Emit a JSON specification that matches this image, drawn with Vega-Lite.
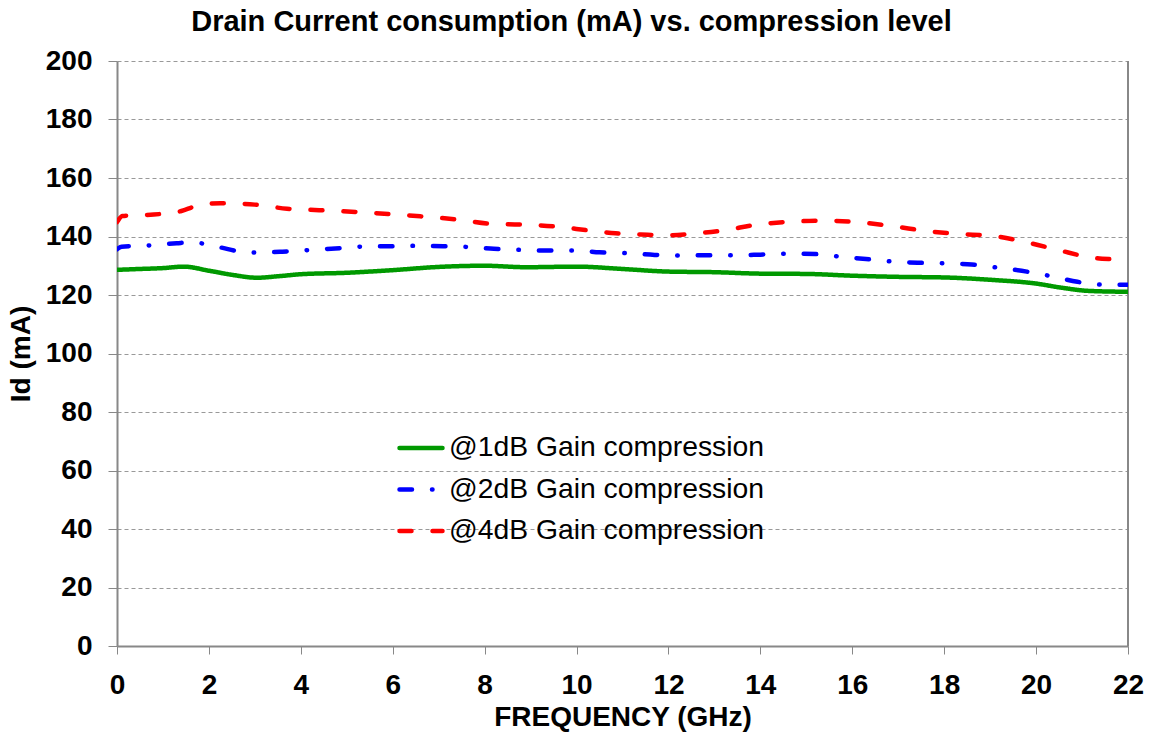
{
  "$schema": "https://vega.github.io/schema/vega-lite/v6.json",
  "autosize": "none",
  "width": 1011,
  "height": 585,
  "padding": {"left": 117, "top": 61, "right": 27, "bottom": 90},
  "background": "white",
  "title": {
    "text": "Drain Current consumption (mA) vs. compression level",
    "font": "Liberation Sans",
    "fontSize": 29,
    "fontWeight": "bold",
    "color": "black",
    "anchor": "middle",
    "frame": "group",
    "dx": -51,
    "offset": 10
  },
  "config": {
    "view": {"stroke": null},
    "axis": {
      "labelFont": "Liberation Sans",
      "labelFontWeight": "bold",
      "labelFontSize": 28,
      "labelColor": "black",
      "titleFont": "Liberation Sans",
      "titleFontWeight": "bold",
      "titleFontSize": 28,
      "titleColor": "black",
      "gridColor": "#999999",
      "gridDash": [4, 3],
      "gridWidth": 1,
      "gridOpacity": 1,
      "domainColor": "#888888",
      "domainWidth": 2,
      "tickColor": "#888888",
      "tickWidth": 1
    }
  },
  "data": {
    "values": [
      {"f": 0, "id": 128.6, "s": "@1dB Gain compression"},
      {"f": 0.5, "id": 128.9, "s": "@1dB Gain compression"},
      {"f": 1.0, "id": 129.2, "s": "@1dB Gain compression"},
      {"f": 1.45, "id": 129.7, "s": "@1dB Gain compression"},
      {"f": 2.0, "id": 128.3, "s": "@1dB Gain compression"},
      {"f": 2.5, "id": 126.9, "s": "@1dB Gain compression"},
      {"f": 3.05, "id": 125.9, "s": "@1dB Gain compression"},
      {"f": 3.5, "id": 126.4, "s": "@1dB Gain compression"},
      {"f": 4.0, "id": 127.1, "s": "@1dB Gain compression"},
      {"f": 5.0, "id": 127.6, "s": "@1dB Gain compression"},
      {"f": 6.0, "id": 128.5, "s": "@1dB Gain compression"},
      {"f": 7.0, "id": 129.6, "s": "@1dB Gain compression"},
      {"f": 8.0, "id": 130.0, "s": "@1dB Gain compression"},
      {"f": 8.9, "id": 129.5, "s": "@1dB Gain compression"},
      {"f": 10.0, "id": 129.7, "s": "@1dB Gain compression"},
      {"f": 11.0, "id": 128.9, "s": "@1dB Gain compression"},
      {"f": 12.0, "id": 128.0, "s": "@1dB Gain compression"},
      {"f": 13.0, "id": 127.8, "s": "@1dB Gain compression"},
      {"f": 14.0, "id": 127.3, "s": "@1dB Gain compression"},
      {"f": 15.0, "id": 127.2, "s": "@1dB Gain compression"},
      {"f": 16.0, "id": 126.6, "s": "@1dB Gain compression"},
      {"f": 17.0, "id": 126.2, "s": "@1dB Gain compression"},
      {"f": 18.0, "id": 126.0, "s": "@1dB Gain compression"},
      {"f": 19.0, "id": 125.2, "s": "@1dB Gain compression"},
      {"f": 20.0, "id": 123.9, "s": "@1dB Gain compression"},
      {"f": 20.55, "id": 122.5, "s": "@1dB Gain compression"},
      {"f": 21.15, "id": 121.4, "s": "@1dB Gain compression"},
      {"f": 22.0, "id": 121.1, "s": "@1dB Gain compression"},

      {"f": 0, "id": 135.6, "s": "@2dB Gain compression"},
      {"f": 0.1, "id": 136.5, "s": "@2dB Gain compression"},
      {"f": 0.75, "id": 137.0, "s": "@2dB Gain compression"},
      {"f": 1.3, "id": 137.7, "s": "@2dB Gain compression"},
      {"f": 1.6, "id": 138.0, "s": "@2dB Gain compression"},
      {"f": 1.9, "id": 137.5, "s": "@2dB Gain compression"},
      {"f": 2.3, "id": 136.1, "s": "@2dB Gain compression"},
      {"f": 2.65, "id": 134.9, "s": "@2dB Gain compression"},
      {"f": 3.03, "id": 134.5, "s": "@2dB Gain compression"},
      {"f": 3.6, "id": 134.8, "s": "@2dB Gain compression"},
      {"f": 4.2, "id": 135.4, "s": "@2dB Gain compression"},
      {"f": 4.75, "id": 135.9, "s": "@2dB Gain compression"},
      {"f": 5.3, "id": 136.5, "s": "@2dB Gain compression"},
      {"f": 6.0, "id": 136.7, "s": "@2dB Gain compression"},
      {"f": 6.5, "id": 136.8, "s": "@2dB Gain compression"},
      {"f": 7.1, "id": 136.7, "s": "@2dB Gain compression"},
      {"f": 7.65, "id": 136.4, "s": "@2dB Gain compression"},
      {"f": 8.2, "id": 135.8, "s": "@2dB Gain compression"},
      {"f": 8.8, "id": 135.4, "s": "@2dB Gain compression"},
      {"f": 9.4, "id": 135.2, "s": "@2dB Gain compression"},
      {"f": 10.0, "id": 135.2, "s": "@2dB Gain compression"},
      {"f": 10.5, "id": 134.6, "s": "@2dB Gain compression"},
      {"f": 11.1, "id": 134.3, "s": "@2dB Gain compression"},
      {"f": 11.7, "id": 133.7, "s": "@2dB Gain compression"},
      {"f": 12.3, "id": 133.5, "s": "@2dB Gain compression"},
      {"f": 12.85, "id": 133.6, "s": "@2dB Gain compression"},
      {"f": 13.4, "id": 133.6, "s": "@2dB Gain compression"},
      {"f": 14.0, "id": 133.8, "s": "@2dB Gain compression"},
      {"f": 14.6, "id": 134.1, "s": "@2dB Gain compression"},
      {"f": 15.2, "id": 134.0, "s": "@2dB Gain compression"},
      {"f": 15.75, "id": 133.1, "s": "@2dB Gain compression"},
      {"f": 16.3, "id": 132.3, "s": "@2dB Gain compression"},
      {"f": 16.9, "id": 131.4, "s": "@2dB Gain compression"},
      {"f": 17.5, "id": 131.0, "s": "@2dB Gain compression"},
      {"f": 18.05, "id": 130.8, "s": "@2dB Gain compression"},
      {"f": 18.6, "id": 130.4, "s": "@2dB Gain compression"},
      {"f": 19.2, "id": 129.3, "s": "@2dB Gain compression"},
      {"f": 19.8, "id": 128.0, "s": "@2dB Gain compression"},
      {"f": 20.4, "id": 126.2, "s": "@2dB Gain compression"},
      {"f": 20.9, "id": 124.5, "s": "@2dB Gain compression"},
      {"f": 21.5, "id": 123.5, "s": "@2dB Gain compression"},
      {"f": 22.0, "id": 123.5, "s": "@2dB Gain compression"},

      {"f": 0, "id": 144.9, "s": "@4dB Gain compression"},
      {"f": 0.12, "id": 147.0, "s": "@4dB Gain compression"},
      {"f": 0.8, "id": 147.5, "s": "@4dB Gain compression"},
      {"f": 1.4, "id": 148.7, "s": "@4dB Gain compression"},
      {"f": 1.7, "id": 150.3, "s": "@4dB Gain compression"},
      {"f": 2.25, "id": 151.4, "s": "@4dB Gain compression"},
      {"f": 3.0, "id": 150.9, "s": "@4dB Gain compression"},
      {"f": 3.7, "id": 149.5, "s": "@4dB Gain compression"},
      {"f": 4.4, "id": 149.0, "s": "@4dB Gain compression"},
      {"f": 5.2, "id": 148.4, "s": "@4dB Gain compression"},
      {"f": 5.9, "id": 147.7, "s": "@4dB Gain compression"},
      {"f": 6.6, "id": 146.9, "s": "@4dB Gain compression"},
      {"f": 7.4, "id": 145.8, "s": "@4dB Gain compression"},
      {"f": 8.1, "id": 144.4, "s": "@4dB Gain compression"},
      {"f": 8.8, "id": 144.1, "s": "@4dB Gain compression"},
      {"f": 9.55, "id": 143.4, "s": "@4dB Gain compression"},
      {"f": 10.3, "id": 142.0, "s": "@4dB Gain compression"},
      {"f": 10.85, "id": 141.1, "s": "@4dB Gain compression"},
      {"f": 11.4, "id": 140.7, "s": "@4dB Gain compression"},
      {"f": 11.95, "id": 140.4, "s": "@4dB Gain compression"},
      {"f": 12.5, "id": 140.9, "s": "@4dB Gain compression"},
      {"f": 13.2, "id": 142.1, "s": "@4dB Gain compression"},
      {"f": 13.95, "id": 144.1, "s": "@4dB Gain compression"},
      {"f": 14.7, "id": 145.1, "s": "@4dB Gain compression"},
      {"f": 15.4, "id": 145.4, "s": "@4dB Gain compression"},
      {"f": 16.1, "id": 144.9, "s": "@4dB Gain compression"},
      {"f": 16.9, "id": 143.5, "s": "@4dB Gain compression"},
      {"f": 17.6, "id": 141.9, "s": "@4dB Gain compression"},
      {"f": 18.3, "id": 140.9, "s": "@4dB Gain compression"},
      {"f": 19.1, "id": 140.1, "s": "@4dB Gain compression"},
      {"f": 19.8, "id": 138.0, "s": "@4dB Gain compression"},
      {"f": 20.5, "id": 135.3, "s": "@4dB Gain compression"},
      {"f": 21.2, "id": 132.8, "s": "@4dB Gain compression"},
      {"f": 21.9, "id": 131.9, "s": "@4dB Gain compression"},
      {"f": 22.0, "id": 131.7, "s": "@4dB Gain compression"}
    ]
  },
  "layer": [
    {
      "mark": {"type": "rule", "color": "#888888", "strokeWidth": 2},
      "encoding": {"x": {"datum": 22, "type": "quantitative"}}
    },
    {
      "mark": {"type": "line", "strokeWidth": 4.5, "strokeCap": "round", "interpolate": "monotone", "clip": true},
      "encoding": {
        "x": {
          "field": "f", "type": "quantitative",
          "scale": {"domain": [0, 22], "nice": false, "zero": false},
          "axis": {
            "title": "FREQUENCY (GHz)",
            "values": [0, 2, 4, 6, 8, 10, 12, 14, 16, 18, 20, 22],
            "tickSize": 8,
            "labelPadding": 17,
            "titlePadding": 4,
            "labelFlush": false
          }
        },
        "y": {
          "field": "id", "type": "quantitative",
          "scale": {"domain": [0, 200], "nice": false},
          "axis": {
            "title": "Id (mA)",
            "values": [0, 20, 40, 60, 80, 100, 120, 140, 160, 180, 200],
            "tickSize": 9,
            "labelPadding": 16,
            "titlePadding": 10,
            "labelFlush": false
          }
        },
        "color": {
          "field": "s", "type": "nominal",
          "scale": {
            "domain": ["@1dB Gain compression", "@2dB Gain compression", "@4dB Gain compression"],
            "range": ["#009900", "#0000ff", "#ff0000"]
          },
          "legend": {
            "title": null,
            "orient": "none",
            "legendX": 280,
            "legendY": 363,
            "symbolType": "stroke",
            "symbolSize": 1849,
            "symbolStrokeWidth": 4.5,
            "labelFont": "Liberation Sans",
            "labelFontSize": 28.3,
            "labelColor": "black",
            "labelOffset": 4,
            "rowPadding": 3.5,
            "labelLimit": 500,
            "encode": {"symbols": {"update": {"strokeCap": {"value": "round"}}}}
          }
        },
        "strokeDash": {
          "field": "s", "type": "nominal",
          "scale": {
            "domain": ["@1dB Gain compression", "@2dB Gain compression", "@4dB Gain compression"],
            "range": [[1, 0], [12.5, 20, 0.5, 20], [12, 21]]
          },
          "legend": null
        }
      }
    }
  ]
}
